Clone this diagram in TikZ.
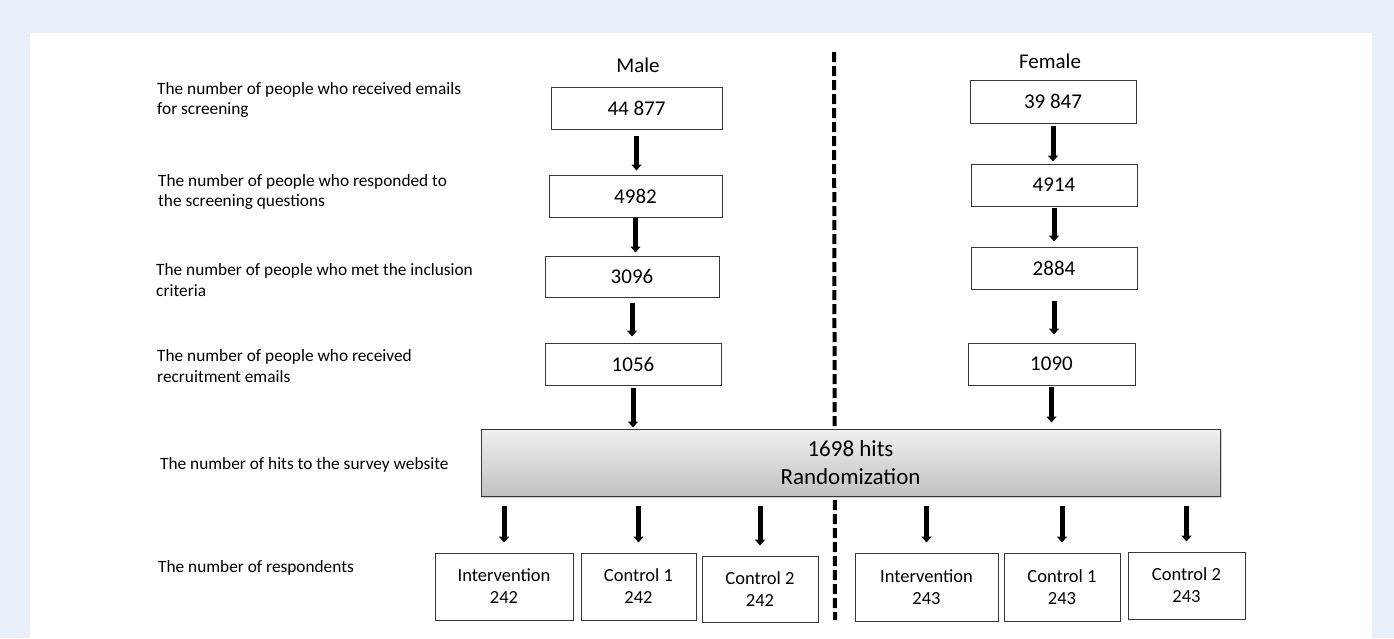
\documentclass[tikz,border=0pt]{standalone}
\usepackage{fontspec}
\setmainfont{Carlito}
\usepackage{xcolor}
\usetikzlibrary{positioning, arrows.meta, shadows}

\definecolor{panelblue}{RGB}{232,239,248}
\definecolor{boxline}{RGB}{55,55,55}

\tikzset{
  numbox/.style={draw=boxline, line width=1pt, fill=white, inner sep=0pt, font=\fontsize{21}{25}\selectfont},
  groupbox/.style={draw=boxline, line width=1pt, fill=white, inner sep=0pt, align=center, font=\fontsize{18.5}{22}\selectfont},
  rowlabel/.style={anchor=west, align=left, inner sep=0pt, font=\fontsize{17.3}{20.5}\selectfont},
  sexlabel/.style={font=\fontsize{21}{25}\selectfont},
  flowarrow/.style={line width=5pt, -{Triangle[width=10pt,length=6pt]}},
}

\begin{document}
\begin{tikzpicture}[x=1pt,y=-1pt]

% Background and white panel
\fill[panelblue] (0,0) rectangle (1394,638);
\fill[white] (30,33) rectangle (1372,638);

% Divider between male and female
\coordinate (divtop) at (834,52);
\coordinate (divbot) at (835,620);
\draw[line width=4pt, dash pattern=on 10pt off 4pt] (divtop) -- (divbot);

% Row labels
\node[rowlabel] (lab1) at (157,100) {The number of people who received emails\\for screening};
\node[rowlabel] (lab2) at (158,192) {The number of people who responded to\\the screening questions};
\node[rowlabel] (lab3) at (156,280) {The number of people who met the inclusion\\criteria};
\node[rowlabel] (lab4) at (157,366) {The number of people who received\\recruitment emails};
\node[rowlabel] (lab5) at (160,465) {The number of hits to the survey website};
\node[rowlabel] (lab6) at (158,568) {The number of respondents};

% Male column
\node[sexlabel] (male) at (638,65) {Male};
\node[numbox, minimum width=171pt, minimum height=42pt] (m1) at (636.5,108) {44 877};
\node[numbox, minimum width=173pt, minimum height=42pt] (m2) at (635.5,196) {4982};
\node[numbox, minimum width=174pt, minimum height=41pt] (m3) at (632,276.5) {3096};
\node[numbox, minimum width=176pt, minimum height=42pt] (m4) at (633,364) {1056};

% Female column
\node[sexlabel] (female) at (1050,61) {Female};
\node[numbox, minimum width=166pt, minimum height=43pt] (f1) at (1053,101.5) {39 847};
\node[numbox, minimum width=166pt, minimum height=42pt] (f2) at (1054,185) {4914};
\node[numbox, minimum width=166pt, minimum height=42pt] (f3) at (1054,268) {2884};
\node[numbox, minimum width=167pt, minimum height=42pt] (f4) at (1051.5,364) {1090};

% Randomization box
\node[draw=boxline, line width=1pt, inner sep=0pt, minimum width=739pt, minimum height=67pt,
      top color=gray!12, bottom color=gray!48, align=center,
      drop shadow={shadow xshift=1.5pt, shadow yshift=-1.5pt, opacity=0.35},
      font=\fontsize{23}{28}\selectfont] (hits) at (850.5,462.5) {1698 hits\\Randomization};

% Respondent groups
\node[groupbox, minimum width=138pt, minimum height=67pt] (mint) at (504,586.5) {Intervention\\242};
\node[groupbox, minimum width=115pt, minimum height=67pt] (mc1) at (638.5,586.5) {Control 1\\242};
\node[groupbox, minimum width=116pt, minimum height=66pt] (mc2) at (760,589) {Control 2\\242};
\node[groupbox, minimum width=143pt, minimum height=68pt] (fint) at (926.5,587) {Intervention\\243};
\node[groupbox, minimum width=116pt, minimum height=68pt] (fc1) at (1062,587) {Control 1\\243};
\node[groupbox, minimum width=117pt, minimum height=67pt] (fc2) at (1186.5,585.5) {Control 2\\243};

% Arrows male
\draw[flowarrow, shorten <=6pt, shorten >=4pt] (m1.south) -- (m1.south |- m2.north);
\draw[flowarrow, shorten <=0pt, shorten >=3pt] (m2.south) -- (m2.south |- m3.north);
\draw[flowarrow, shorten <=5pt, shorten >=6pt] (m3.south) -- (m3.south |- m4.north);
\draw[flowarrow, shorten <=2pt, shorten >=1pt] (m4.south) -- (m4.south |- hits.north);

% Arrows female
\draw[flowarrow, shorten <=2pt, shorten >=2pt] (f1.south) -- (f1.south |- f2.north);
\draw[flowarrow, shorten <=1pt, shorten >=5pt] (f2.south) -- (f2.south |- f3.north);
\draw[flowarrow, shorten <=11pt, shorten >=8pt] (f3.south) -- (f3.south |- f4.north);
\draw[flowarrow, shorten <=1pt, shorten >=6pt] (f4.south) -- (f4.south |- hits.north);

% Arrows to groups
\foreach \g in {mint, mc1, mc2, fint, fc1, fc2}
  \draw[flowarrow, shorten <=9pt, shorten >=10pt] (\g.north |- hits.south) -- (\g.north);

\end{tikzpicture}
\end{document}
